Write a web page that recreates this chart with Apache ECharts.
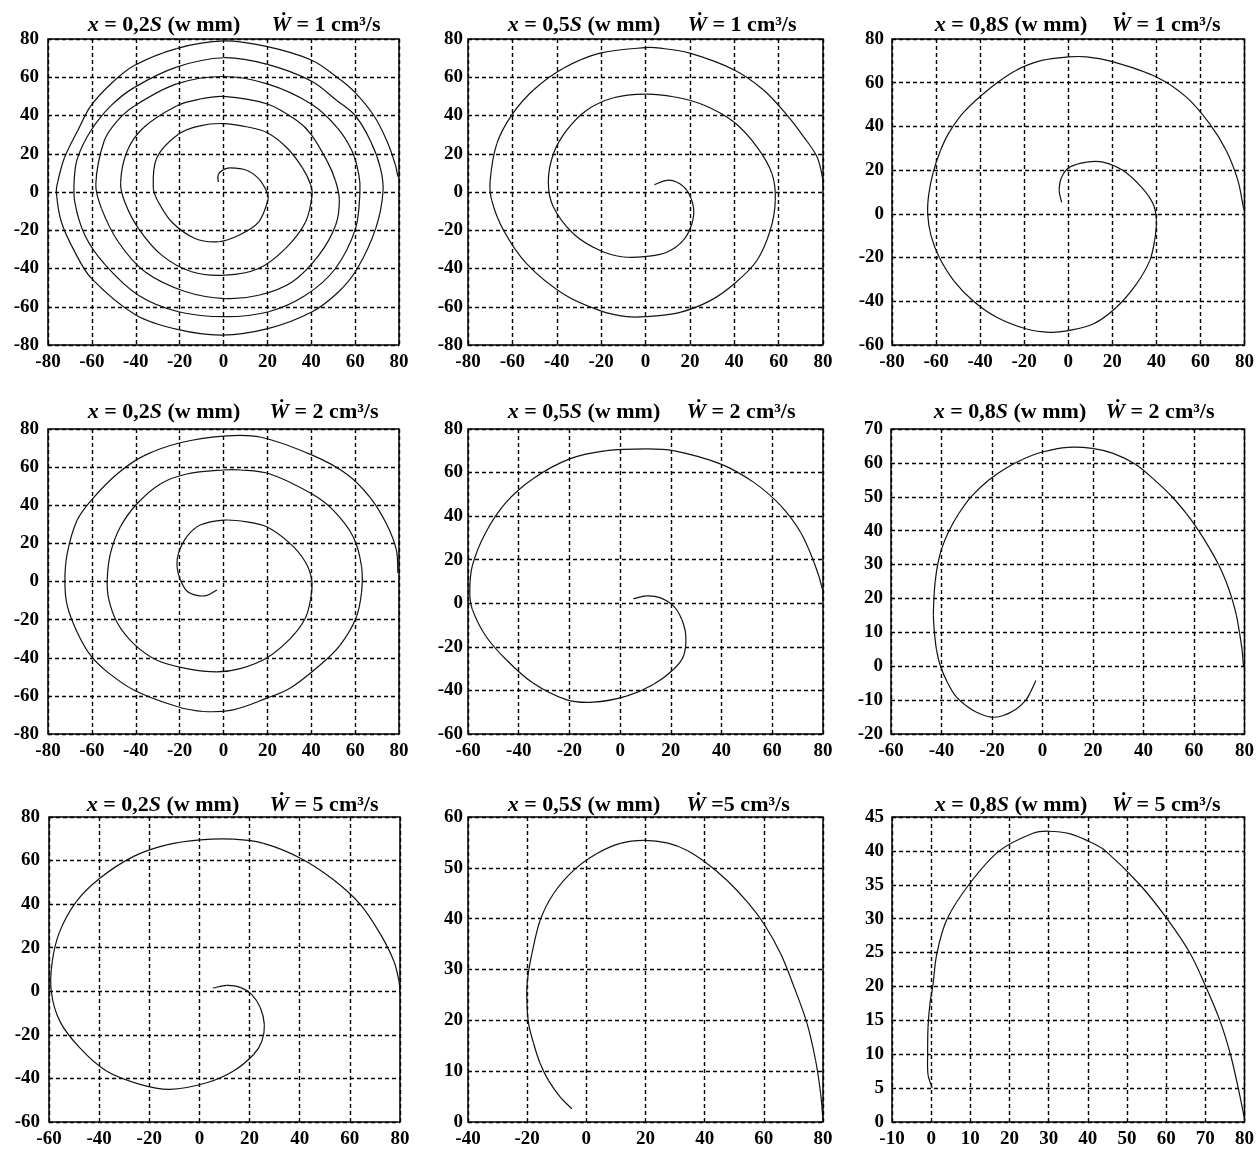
<!DOCTYPE html>
<html><head><meta charset="utf-8">
<script src="https://cdn.jsdelivr.net/npm/echarts@6/dist/echarts.min.js"></script>
<style>html,body{margin:0;padding:0;background:#fff}#c{width:1257px;height:1150px}</style>
</head><body><div id="c"></div>
<script>
// ---- titles (rich text: {i|..} = italic), left part = position, right part = flow rate ----
const titlesLeft = [
  '{i|x} = 0,2{i|S} (w mm)', '{i|x} = 0,5{i|S} (w mm)', '{i|x} = 0,8{i|S} (w mm)',
  '{i|x} = 0,2{i|S} (w mm)', '{i|x} = 0,5{i|S} (w mm)', '{i|x} = 0,8{i|S} (w mm)',
  '{i|x} = 0,2{i|S} (w mm)', '{i|x} = 0,5{i|S} (w mm)', '{i|x} = 0,8{i|S} (w mm)'
];
const titlesRight = [
  '{i|Ẇ} = 1 cm³/s', '{i|Ẇ} = 1 cm³/s', '{i|Ẇ} = 1 cm³/s',
  '{i|Ẇ} = 2 cm³/s', '{i|Ẇ} = 2 cm³/s', '{i|Ẇ} = 2 cm³/s',
  '{i|Ẇ} = 5 cm³/s', '{i|Ẇ} =5 cm³/s', '{i|Ẇ} = 5 cm³/s'
];

// ---- axis ranges ----
const xMin  = [-80, -80, -80, -80, -60, -60, -60, -40, -10];
const xMax  = [ 80,  80,  80,  80,  80,  80,  80,  80,  80];
const xStep = [ 20,  20,  20,  20,  20,  20,  20,  20,  10];
const yMin  = [-80, -80, -60, -80, -60, -20, -60,   0,   0];
const yMax  = [ 80,  80,  80,  80,  80,  70,  80,  60,  45];
const yStep = [ 20,  20,  20,  20,  20,  10,  20,  10,   5];

// ---- trajectories [x, y] ----
const traj02S_W1 = [[-2.4,5.2],[-2.4,9],[0,11.7],[3,12.6],[10.5,11.4],[16,7],[19.8,0],[20.3,-4],[16,-15.7],[7,-22.6],[-2.3,-26],[-13,-24.3],[-23.6,-15.7],[-29.7,-5.2],[-32,2],[-30.4,17.9],[-20.6,30.2],[-10.8,34.6],[0,35.8],[11,34],[20,31],[29,23],[36,12.6],[39.7,3.9],[40.4,-1.7],[37.4,-15.7],[28.2,-29.6],[16,-40],[0.8,-43.5],[-14.5,-41.7],[-28.2,-33],[-38.8,-19],[-45,-5.2],[-46.9,5],[-43.9,21.4],[-36.4,33.7],[-21.4,45],[-10.8,48.6],[0,50],[20,46],[33.6,37.2],[40,30],[47.3,16],[51,6],[52.8,-4],[51.1,-17.4],[43.5,-33],[31.3,-47],[16,-54],[0.8,-55.7],[-17.5,-52],[-35.8,-41.7],[-48,-26],[-55.6,-8.7],[-58.2,4],[-54.4,26.7],[-48.4,37.2],[-40.6,45],[-21.4,56.5],[0,60.4],[20,56.5],[40,46],[51.8,33.7],[58.6,21.4],[61.7,9],[62.2,0],[60.2,-19],[51,-40],[37.4,-54],[20.6,-62.6],[0.8,-65.2],[-20.5,-62.6],[-38.8,-54],[-54,-38],[-63.2,-22.6],[-67.8,-5.2],[-68,7.4],[-66.5,17.9],[-60.5,32],[-51.4,45],[-40.6,54.7],[-21.4,65.3],[0,70.2],[20,66.7],[40,58],[51.8,47.7],[60,40],[67,26.7],[71.5,12.6],[72.7,0],[69.4,-19],[61,-40],[52.6,-52],[40.4,-62.6],[20.6,-71.3],[-0.7,-74.8],[-20.5,-72],[-40,-64.3],[-60.2,-45.2],[-67.8,-31.3],[-73.9,-15.7],[-76.2,0],[-75.5,5.6],[-72.5,17.9],[-66.5,32],[-60.5,45],[-51.4,56.5],[-40.9,66],[-21.4,75],[0,79],[20,76],[40,69],[51.8,60],[60,52],[68.5,40],[74.5,26.7],[78.3,14.4],[79.5,8]];

const traj05S_W1 = [[4,3.8],[9.6,6.1],[14,5.2],[18.6,0.9],[21.6,-7.9],[20.9,-16.6],[17,-25.3],[9.6,-31.5],[0.6,-33.7],[-9.9,-34],[-20.5,-30.6],[-32.5,-21.8],[-41.5,-7.9],[-43.8,5.2],[-41.5,20],[-35.5,32.3],[-26.5,42.8],[-14.4,49.3],[0,51.2],[12.6,49.8],[26.2,45.5],[39.7,36.7],[50.2,23.6],[57,9.6],[58.5,-4.4],[56.2,-20.1],[50.2,-35.8],[40,-48],[29.2,-56.8],[15.6,-62.9],[0,-65.2],[-8.4,-65.2],[-20.5,-62],[-37,-53.3],[-53.5,-37.6],[-64,-20],[-69.3,-4.4],[-70,6.1],[-67,25.3],[-60.3,40.2],[-50.5,53.3],[-37,64.7],[-20.5,72.6],[0,75.5],[6.6,75.2],[20,72.6],[40,63.8],[53.2,53.3],[63.8,40.2],[71.3,28.8],[77.3,18.4],[80,6.1],[80,2]];

const traj08S_W1 = [[-3,5.3],[-4.1,10.7],[-3,16.8],[0.75,21.4],[8.3,23.7],[15.8,23.7],[24.9,19.8],[33.2,12.2],[38.5,4.6],[40,-3],[39.2,-12.2],[37,-21.4],[31,-32],[21.9,-42.7],[11.3,-50.4],[0,-53.4],[-8.3,-54.2],[-18.9,-52.7],[-32.5,-47.3],[-43,-40],[-52,-30.5],[-58.5,-20],[-62.3,-10],[-63.8,0],[-63.3,9],[-61.3,19],[-58,29],[-53.9,37.5],[-47,47],[-35.5,57.5],[-24,65.5],[-12,70.2],[0,71.8],[8.3,71.8],[20.4,69.5],[40,62.6],[53.6,53.4],[64.2,41.2],[71.7,29],[77,15.3],[79.5,3],[80,1.5]];

const traj02S_W2 = [[-3,-4.5],[-7.6,-7.3],[-12.1,-7.3],[-16.7,-5],[-19.7,1],[-21.2,8],[-20.5,14.9],[-16.7,23.5],[-10.6,29.6],[0,32.2],[10.6,31.3],[19.7,28.7],[30.3,20],[37.1,10.6],[40.2,1],[39.7,-9.3],[37.1,-19.7],[30.3,-30.1],[19.7,-40.1],[7.6,-45.7],[-3,-47.4],[-16.7,-45.7],[-30.3,-41.3],[-40.9,-32.7],[-48.5,-21.5],[-52.3,-9.3],[-53,1],[-51.5,14.9],[-47,28.7],[-39.4,40.8],[-28.8,51.2],[-16.7,56.4],[0,58.5],[7.6,58.5],[21.2,56.4],[40.2,46],[50,37.4],[59.1,23.5],[62.9,8],[62.9,-5.9],[60.2,-19.7],[53,-33.6],[43.9,-43.9],[30.3,-56],[19.7,-61.2],[4.5,-67.3],[-9.1,-68.2],[-21.2,-65.6],[-40.9,-56.9],[-53,-47.4],[-60.6,-38.8],[-66.7,-26.6],[-71.2,-12.8],[-72.3,0],[-71.2,14.9],[-66.7,32.2],[-60.3,42.6],[-48.5,56.4],[-36.4,65.9],[-19.7,72.8],[0,76.3],[16.7,75.8],[40.2,66.4],[56.1,56.4],[66.7,44.3],[74.2,30.4],[78.8,16.6],[79.5,4.5]];

const traj05S_W2 = [[5.2,2.1],[10.4,3.4],[15.7,2.6],[21,-1.2],[24.3,-7.4],[25.9,-15],[25,-24.2],[21,-30.4],[13.1,-37.3],[2.5,-42.6],[-10.7,-45.4],[-21.3,-44.2],[-34.5,-36.5],[-45,-25.8],[-53,-15],[-58.3,-2.8],[-59.3,4.9],[-58.3,17.2],[-53,32.5],[-45,46.3],[-34.5,57.1],[-19.9,66.3],[-5.4,70.1],[10.4,70.9],[21,70.1],[39.5,64],[52.7,55.5],[63.3,44.8],[71.2,32.5],[76.5,18.7],[79.8,6.4],[80,1]];

const traj08S_W2 = [[-2.6,-4.2],[-5,-8],[-6.6,-10],[-10.5,-12.7],[-15.8,-14.6],[-20.4,-15],[-26.3,-13.5],[-30.5,-11.5],[-34.2,-9],[-37.5,-5],[-40.4,0],[-42,5],[-42.8,10],[-43.2,15],[-43,20],[-42.5,25],[-41.5,30],[-39.8,35],[-37,40],[-33.2,45],[-28.3,50],[-21.5,54.8],[-15,58.2],[-8,61],[0,63.2],[10,64.6],[19.7,64.3],[28,62.8],[36.8,59.6],[44,55.2],[51.3,50],[57,45],[61.8,40],[66,35],[69.7,30],[72.7,25],[75,20],[76.8,15],[78,10],[79,5],[79.6,0]];

const traj02S_W5 = [[5.3,1.5],[10.9,2.7],[16.3,1.8],[20.9,-1.5],[24.3,-7.6],[25.9,-15.3],[24.9,-22.9],[21.6,-29],[13.6,-36.6],[2.9,-42],[-11.7,-45],[-23.7,-42.7],[-37.1,-36.6],[-47.7,-26],[-55.7,-13.7],[-59.1,0],[-58.7,13.7],[-55.7,27.5],[-49.1,41.2],[-39.7,51.9],[-26.4,61.8],[-13.1,67.2],[0.3,69.5],[13.6,69.8],[25.6,67.9],[40.3,61.1],[53.6,51.1],[64.3,39.7],[72.3,26],[77.6,13.7],[79.6,4.6],[80,0]];

const traj05S_W5 = [[-4.9,2.6],[-8.8,4.9],[-12.8,8.2],[-15.6,11.5],[-17.8,15.4],[-19.5,19.3],[-20.1,23.9],[-19.9,27.9],[-18.4,33.1],[-15.6,39.7],[-11.1,44.9],[-4.3,49.5],[3.6,52.8],[11.5,54.8],[19.4,55.4],[27.3,54.9],[34.1,53.4],[40.9,50.8],[47.6,47.5],[54.4,43.3],[60,39],[65.7,33.1],[70.2,26.6],[74.6,19.4],[77.5,12.1],[79.2,5.6],[80,0.3]];

const traj08S_W5 = [[0.25,5],[-0.8,7],[-0.9,10],[-0.8,14],[-0.3,17.5],[0.4,20],[1.5,25],[4.1,30],[10,35.3],[17.4,40],[26,42.6],[30,42.9],[35.5,42.5],[41,41.2],[44.5,40],[53.3,35],[60.2,30],[66,25],[70.1,20],[73.7,15],[76.4,10],[78.4,5],[80,0.5]];

const trajectories = [traj02S_W1, traj05S_W1, traj08S_W1, traj02S_W2, traj05S_W2, traj08S_W2, traj02S_W5, traj05S_W5, traj08S_W5];

// ---- layout (pixels) ----
const rects = [
  [48, 39, 351, 306], [468, 39, 355, 306], [892, 39, 353, 306],
  [48, 429, 351, 305], [468, 429, 355, 305], [891, 429, 354, 305],
  [49, 817, 351, 305], [468, 817, 355, 305], [892, 817, 353, 305]
];
const titleLeftX  = [164, 584, 1011, 164, 584, 1010, 163, 584, 1011];
const titleRightX = [326, 742, 1166, 324, 741, 1160, 324, 738, 1166];
const titleY = [25, 25, 25, 412, 412, 412, 805, 805, 805];
const yLabelMargin = [9, 5, 8];

const FONT = '"Liberation Serif", "Times New Roman", "DejaVu Serif", serif';
const gridLine = { show: true, lineStyle: { color: '#000', width: 1.4, type: [4, 3] } };
const labelStyle = { color: '#000', fontFamily: FONT, fontSize: 19, fontWeight: 'bold', showMinLabel: true, showMaxLabel: true };

function titleText(text, x, y) {
  return {
    type: 'text', x: x, y: y, silent: true,
    style: {
      text: text, fill: '#000', font: 'bold 22px ' + FONT, align: 'center', verticalAlign: 'middle',
      rich: { i: { fontStyle: 'italic', fontWeight: 'bold', fontSize: 22, fontFamily: FONT, fill: '#000' } }
    }
  };
}

// smooth curve through the read points (Catmull-Rom segments mapped through the axes)
function makeRenderer(pts) {
  return function (params, api) {
    const k = params.dataIndex;
    if (k >= pts.length - 1) return null;
    const P0 = api.coord(pts[Math.max(k - 1, 0)]);
    const P1 = api.coord(pts[k]);
    const P2 = api.coord(pts[k + 1]);
    const P3 = api.coord(pts[Math.min(k + 2, pts.length - 1)]);
    const d = (a, b) => Math.hypot(a[0] - b[0], a[1] - b[1]) || 1e-6;
    const d01 = d(P0, P1), d12 = d(P1, P2), d23 = d(P2, P3);
    const s1 = d12 / (d01 + d12) / 3, s2 = d12 / (d12 + d23) / 3;
    return {
      type: 'bezierCurve',
      shape: {
        x1: P1[0], y1: P1[1], x2: P2[0], y2: P2[1],
        cpx1: P1[0] + (P2[0] - P0[0]) * s1, cpy1: P1[1] + (P2[1] - P0[1]) * s1,
        cpx2: P2[0] - (P3[0] - P1[0]) * s2, cpy2: P2[1] - (P3[1] - P1[1]) * s2
      },
      style: { stroke: '#111', lineWidth: 1.2, fill: null }
    };
  };
}

const grid = [], xAxis = [], yAxis = [], series = [], graphic = [];
for (let i = 0; i < 9; i++) {
  const r = rects[i];
  grid.push({ left: r[0], top: r[1], width: r[2], height: r[3], show: true, borderColor: '#000', borderWidth: 1.5, backgroundColor: 'transparent' });
  xAxis.push({
    type: 'value', gridIndex: i, min: xMin[i], max: xMax[i], interval: xStep[i],
    axisLine: { show: false }, axisTick: { show: false }, splitLine: gridLine,
    axisLabel: Object.assign({ margin: 8 }, labelStyle)
  });
  yAxis.push({
    type: 'value', gridIndex: i, min: yMin[i], max: yMax[i], interval: yStep[i],
    axisLine: { show: false }, axisTick: { show: false }, splitLine: gridLine,
    axisLabel: Object.assign({ margin: yLabelMargin[i % 3] }, labelStyle)
  });
  series.push({
    type: 'custom', coordinateSystem: 'cartesian2d', xAxisIndex: i, yAxisIndex: i,
    data: trajectories[i], renderItem: makeRenderer(trajectories[i]), clip: true, silent: true, animation: false
  });
  graphic.push(titleText(titlesLeft[i], titleLeftX[i], titleY[i]));
  graphic.push(titleText(titlesRight[i], titleRightX[i], titleY[i]));
}

const chart = echarts.init(document.getElementById('c'), null, { renderer: 'canvas' });
chart.setOption({ animation: false, backgroundColor: '#fff', grid, xAxis, yAxis, series, graphic });
</script>
</body></html>
